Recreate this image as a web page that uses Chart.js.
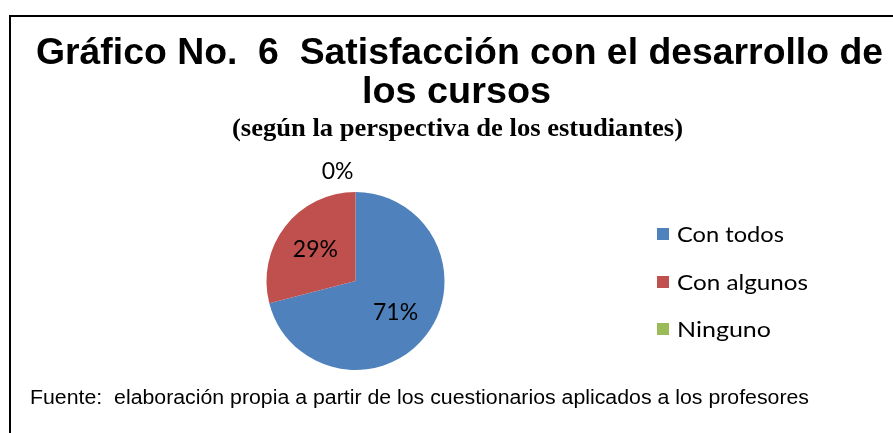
<!DOCTYPE html>
<html lang="es">
<head>
<meta charset="UTF-8">
<title>Gráfico No. 6</title>
<style>
  html, body { margin: 0; padding: 0; background: #fff; }
  #wrap { width: 893px; height: 433px; position: relative; }
</style>
</head>
<body>
<div id="wrap"><canvas id="myChart" width="893" height="433"></canvas></div>
<script src="https://cdn.jsdelivr.net/npm/chart.js"></script>
<script>
const categories = ['Con todos', 'Con algunos', 'Ninguno'];
const values = [71, 29, 0];
const colors = ['#4F81BD', '#C0504D', '#9BBB59'];

const titleLines = ['Gráfico No.  6  Satisfacción con el desarrollo de', 'los cursos'];
const subtitle = '(según la perspectiva de los estudiantes)';
const footer = 'Fuente:  elaboración propia a partir de los cuestionarios aplicados a los profesores';

// draw text squeezed/stretched horizontally to a given width (left x)
function wideText(c, txt, x, y, width) {
  const w = c.measureText(txt).width;
  c.save();
  c.translate(x, y);
  c.scale(width / w, 1);
  c.textAlign = 'left';
  c.fillText(txt, 0, 0);
  c.restore();
}

// frame, titles, footer, legend and slice labels
const decor = {
  id: 'decor',
  beforeDraw(chart) {
    const c = chart.ctx;
    c.save();
    c.fillStyle = '#fff';
    c.fillRect(0, 0, chart.width, chart.height);
    c.strokeStyle = '#000';
    c.lineWidth = 2;
    c.strokeRect(10, 16, 900, 450);
    c.restore();
  },
  afterDraw(chart) {
    const c = chart.ctx;
    c.save();
    c.fillStyle = '#000';
    c.textBaseline = 'alphabetic';
    c.font = 'bold 37px "Liberation Sans", Arial, sans-serif';
    wideText(c, titleLines[0], 36, 64, 847);
    wideText(c, titleLines[1], 362, 103, 189);
    c.font = 'bold 26px "Liberation Serif", "Times New Roman", serif';
    wideText(c, subtitle, 232, 136, 451);

    c.font = '20px "Liberation Sans", Arial, sans-serif';
    wideText(c, footer, 30, 404, 779);

    // legend
    const rowsY = [234, 282, 329];
    const legendW = [107, 131, 94];
    c.font = '22px Lato, "Open Sans", sans-serif';
    c.textBaseline = 'middle';
    categories.forEach((name, i) => {
      c.fillStyle = colors[i];
      c.fillRect(657, rowsY[i] - 6, 12, 12);
      c.fillStyle = '#000';
      wideText(c, name, 677, rowsY[i] + 1, legendW[i]);
    });

    // slice labels
    const meta = chart.getDatasetMeta(0);
    const total = values.reduce((a, b) => a + b, 0);
    c.font = '23px Lato, "Open Sans", sans-serif';
    meta.data.forEach((arc, i) => {
      const p = arc.getProps(['x', 'y', 'startAngle', 'endAngle', 'outerRadius'], true);
      const mid = (p.startAngle + p.endAngle) / 2;
      const txt = Math.round(values[i] / total * 100) + '%';
      c.fillStyle = '#000';
      if (values[i] === 0) {
        c.textAlign = 'right';
        c.fillText(txt, p.x - 2, p.y + Math.sin(mid) * (p.outerRadius + 20));
      } else {
        c.textAlign = 'center';
        const d = p.outerRadius * 0.57;
        c.fillText(txt, p.x + Math.cos(mid) * d, p.y + Math.sin(mid) * d);
      }
    });
    c.restore();
  }
};

new Chart(document.getElementById('myChart'), {
  type: 'pie',
  data: {
    labels: categories,
    datasets: [{
      data: values,
      backgroundColor: colors,
      borderWidth: 0
    }]
  },
  options: {
    responsive: false,
    animation: false,
    layout: { padding: { left: 266, right: 448, top: 192, bottom: 63 } },
    plugins: {
      legend: { display: false },
      title: { display: false },
      tooltip: { enabled: false }
    }
  },
  plugins: [decor]
});
</script>
</body>
</html>
